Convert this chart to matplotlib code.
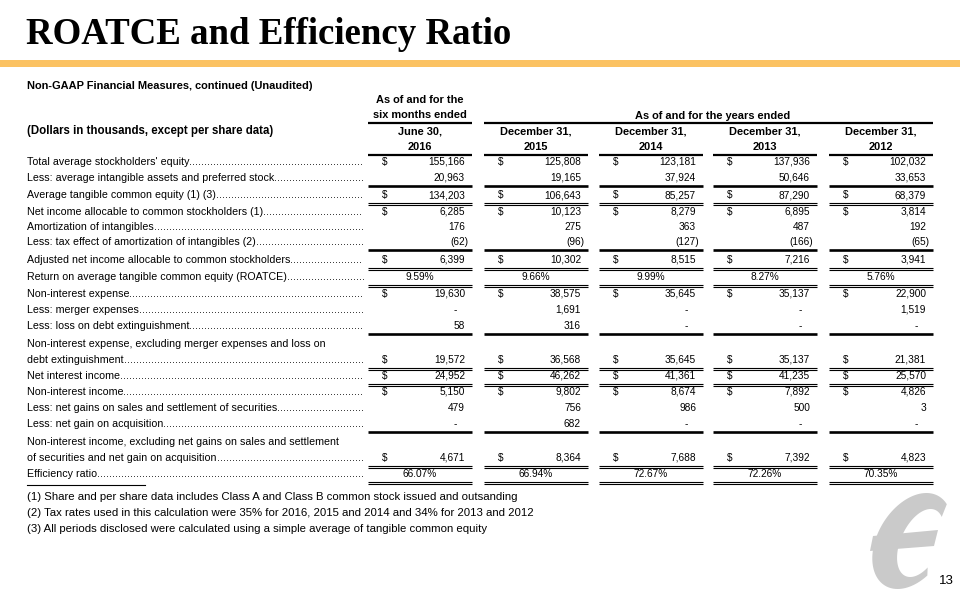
import numpy as np
import matplotlib.pyplot as plt
from matplotlib.patches import Polygon

# column headings
col_top = ["June 30,", "December 31,", "December 31,", "December 31,", "December 31,"]
col_year = ["2016", "2015", "2014", "2013", "2012"]

# values, dollars in thousands (0 = "-")
total_avg_equity = [155166, 125808, 123181, 137936, 102032]
less_intangibles = [20963, 19165, 37924, 50646, 33653]
avg_tangible_equity = [134203, 106643, 85257, 87290, 68379]
net_income = [6285, 10123, 8279, 6895, 3814]
amortization = [176, 275, 363, 487, 192]
tax_effect = [-62, -96, -127, -166, -65]
adj_net_income = [6399, 10302, 8515, 7216, 3941]
roatce = [9.59, 9.66, 9.99, 8.27, 5.76]
nonint_expense = [19630, 38575, 35645, 35137, 22900]
merger_expenses = [0, 1691, 0, 0, 1519]
debt_loss = [58, 316, 0, 0, 0]
nonint_expense_adj = [19572, 36568, 35645, 35137, 21381]
net_interest_income = [24952, 46262, 41361, 41235, 25570]
nonint_income = [5150, 9802, 8674, 7892, 4826]
securities_gains = [479, 756, 986, 500, 3]
acquisition_gain = [0, 682, 0, 0, 0]
nonint_income_adj = [4671, 8364, 7688, 7392, 4823]
efficiency = [66.07, 66.94, 72.67, 72.26, 70.35]

footnotes = [
    "(1) Share and per share data includes Class A and Class B common stock issued and outsanding",
    "(2) Tax rates used in this calculation were 35% for 2016, 2015 and 2014 and 34% for 2013 and 2012",
    "(3) All periods disclosed were calculated using a simple average of tangible common equity",
]

# label, values, format, y, rule below
rows = [
    ("Total average stockholders' equity", total_avg_equity, "dollar", 162, None),
    ("Less: average intangible assets and preferred stock", less_intangibles, "plain", 178, "thick"),
    ("Average tangible common equity (1) (3)", avg_tangible_equity, "dollar", 195, "double"),
    ("Net income allocable to common stockholders (1)", net_income, "dollar", 212, None),
    ("Amortization of intangibles", amortization, "plain", 227, None),
    ("Less: tax effect of amortization of intangibles (2)", tax_effect, "plain", 242, "thick"),
    ("Adjusted net income allocable to common stockholders", adj_net_income, "dollar", 260, "double"),
    ("Return on average tangible common equity (ROATCE)", roatce, "pct", 277, "double"),
    ("Non-interest expense", nonint_expense, "dollar", 294, None),
    ("Less: merger expenses", merger_expenses, "plain", 310, None),
    ("Less: loss on debt extinguishment", debt_loss, "plain", 326, "thick"),
    ("Non-interest expense, excluding merger expenses and loss on\ndebt extinguishment",
     nonint_expense_adj, "dollar", 360, "double"),
    ("Net interest income", net_interest_income, "dollar", 376, "double"),
    ("Non-interest income", nonint_income, "dollar", 392, None),
    ("Less: net gains on sales and settlement of securities", securities_gains, "plain", 408, None),
    ("Less: net gain on acquisition", acquisition_gain, "plain", 424, "thick"),
    ("Non-interest income, excluding net gains on sales and settlement\nof securities and net gain on acquisition",
     nonint_income_adj, "dollar", 458, "double"),
    ("Efficiency ratio", efficiency, "pct", 474, "double"),
]

col_left = [368, 484, 599, 713, 829]
col_w = 104
leader_end = 365
FS_LABEL = 7.7
FS_VAL = 7.3
FS_HEAD = 7.9
font = "Liberation Sans"

fig = plt.figure(figsize=(9.6, 6), dpi=100)
ax = fig.add_axes([0, 0, 1, 1])
ax.set_xlim(0, 960)
ax.set_ylim(600, 0)
ax.axis("off")

# title and orange bar
ax.text(26, 44, "ROATCE and Efficiency Ratio", family="Liberation Serif", weight="bold",
        fontsize=26.6, va="baseline", ha="left")
ax.fill_between([0, 960], 60, 67, color="#FBC262", lw=0)

ax.text(27, 86, "Non-GAAP Financial Measures, continued (Unaudited)", family=font,
        weight="bold", fontsize=7.9, va="center")
ax.text(27, 131, "(Dollars in thousands, except per share data)", family=font,
        weight="bold", fontsize=8.3, va="center")

# headers
c0 = col_left[0] + col_w / 2
ax.text(c0, 100, "As of and for the", family=font, weight="bold", fontsize=FS_HEAD,
        ha="center", va="center")
ax.text(c0, 115, "six months ended", family=font, weight="bold", fontsize=FS_HEAD,
        ha="center", va="center")
ax.plot([col_left[0], col_left[0] + col_w], [123, 123], color="black", lw=1.6,
        solid_capstyle="butt")
span_c = (col_left[1] + col_left[4] + col_w) / 2
ax.text(span_c + 4, 116, "As of and for the years ended", family=font, weight="bold",
        fontsize=FS_HEAD, ha="center", va="center")
ax.plot([col_left[1], col_left[4] + col_w], [123, 123], color="black", lw=1.6,
        solid_capstyle="butt")

for i, x0 in enumerate(col_left):
    c = x0 + col_w / 2
    ax.text(c, 131, col_top[i], family=font, weight="bold", fontsize=FS_HEAD,
            ha="center", va="center")
    ax.text(c, 147, col_year[i], family=font, weight="bold", fontsize=FS_HEAD,
            ha="center", va="center")
    ax.plot([x0, x0 + col_w], [155, 155], color="black", lw=1.6, solid_capstyle="butt")

fig.canvas.draw()
renderer = fig.canvas.get_renderer()
inv = ax.transData.inverted()

probe = ax.text(0, 0, "." * 50, family=font, fontsize=FS_LABEL)
bb = probe.get_window_extent(renderer)
dot_w = (inv.transform((bb.x1, 0))[0] - inv.transform((bb.x0, 0))[0]) / 50
probe.remove()


def fmt_value(v, kind):
    if kind == "pct":
        return "{:.2f}%".format(v)
    if v == 0:
        return "-"
    if v < 0:
        return "({:,})".format(-v)
    return "{:,}".format(v)


for label, vals, kind, y, rule in rows:
    lines = label.split("\n")
    if len(lines) == 2:
        ax.text(27, y - 16, lines[0], family=font, fontsize=FS_LABEL, va="center")
    t = ax.text(27, y, lines[-1], family=font, fontsize=FS_LABEL, va="center")
    bb = t.get_window_extent(renderer)
    x_end = inv.transform((bb.x1, 0))[0]
    n = int((leader_end - x_end) / dot_w)
    ax.text(x_end, y, "." * n, family=font, fontsize=FS_LABEL, va="center")

    for i, x0 in enumerate(col_left):
        r = x0 + col_w - 7
        s = fmt_value(vals[i], kind)
        if kind == "pct":
            ax.text(x0 + col_w / 2, y, s, family=font, fontsize=FS_VAL, ha="center", va="center")
        elif s == "-":
            ax.text(r - 10, y, s, family=font, fontsize=FS_VAL, ha="center", va="center")
        elif s.startswith("("):
            ax.text(r + 3.5, y, s, family=font, fontsize=FS_VAL, ha="right", va="center")
        else:
            ax.text(r, y, s, family=font, fontsize=FS_VAL, ha="right", va="center")
        if kind == "dollar":
            ax.text(x0 + 17, y, "$", family=font, fontsize=FS_VAL, ha="center", va="center")

        if rule == "thick":
            ax.plot([x0, x0 + col_w], [y + 8, y + 8], color="black", lw=1.9,
                    solid_capstyle="butt")
        elif rule == "double":
            ax.plot([x0, x0 + col_w], [y + 7.5, y + 7.5], color="black", lw=0.8,
                    solid_capstyle="butt")
            ax.plot([x0, x0 + col_w], [y + 10, y + 10], color="black", lw=0.8,
                    solid_capstyle="butt")

# footnotes
ax.plot([27, 145], [485, 485], color="black", lw=0.8)
for k, note in enumerate(footnotes):
    ax.text(27, 497 + 16 * k, note, family=font, fontsize=8.2, va="center")

# logo (grey stylised "e")
cx, cy = 912, 541
t_out = np.radians(np.linspace(-50, -314, 90))
t_in = t_out[::-1]
outer = np.column_stack([cx + 37 * np.cos(t_out), cy + 48 * np.sin(t_out)])
inner = np.column_stack([cx + 9 + 21 * np.cos(t_in), cy + 2 + 34 * np.sin(t_in)])
shape = np.vstack([outer, inner])
shape[:, 0] += 0.3 * (cy - shape[:, 1])
ax.add_patch(Polygon(shape, closed=True, color="#CACACA", lw=0, zorder=0))
ax.add_patch(Polygon([(873, 536), (938, 530), (934, 546), (870, 551)], closed=True,
                     color="#CACACA", lw=0, zorder=0))

ax.text(946, 581, "13", family=font, fontsize=9.5, ha="center", va="center")

fig.savefig("out.png", dpi=100)
